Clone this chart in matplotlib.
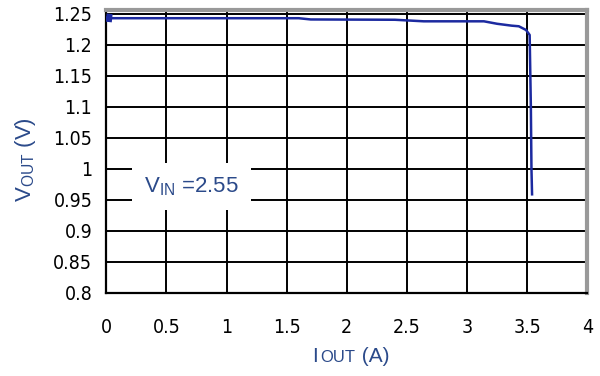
import matplotlib.pyplot as plt
from matplotlib.offsetbox import AnchoredOffsetbox, HPacker, TextArea

# Load-regulation curve: output voltage vs. output current
iout = [0.0, 0.05, 0.5, 1.0, 1.6, 1.7, 2.4, 2.64, 3.0, 3.14, 3.25, 3.37, 3.43, 3.49, 3.52, 3.53, 3.535, 3.54]
vout = [1.244, 1.243, 1.243, 1.243, 1.243, 1.241, 1.2405, 1.238, 1.238, 1.238, 1.234, 1.231, 1.230, 1.224, 1.216, 1.10, 1.00, 0.959]

x_ticks = [0, 0.5, 1, 1.5, 2, 2.5, 3, 3.5, 4]
x_tick_labels = ["0", "0.5", "1", "1.5", "2", "2.5", "3", "3.5", "4"]
y_ticks = [0.8, 0.85, 0.9, 0.95, 1.0, 1.05, 1.1, 1.15, 1.2, 1.25]
y_tick_labels = ["0.8", "0.85", "0.9", "0.95", "1", "1.05", "1.1", "1.15", "1.2", "1.25"]

plt.rcParams["font.family"] = ["Liberation Sans", "DejaVu Sans"]
plt.rcParams["mathtext.fontset"] = "custom"
plt.rcParams["mathtext.rm"] = "Liberation Sans"

label_color = "#2b4a8a"
tick_font = dict(family="DejaVu Sans", stretch="condensed", size=14)

fig = plt.figure(figsize=(6, 3.76), dpi=100)
ax = fig.add_axes([0.177, 0.221, 0.802, 0.752])

ax.plot(iout, vout, color="#1c2aa0", lw=1.8, zorder=3)
# heavier start of the trace near zero load
ax.plot(iout[:2], vout[:2], color="#1c2aa0", lw=6, solid_capstyle="butt", zorder=3)

ax.set_xlim(0, 4)
ax.set_ylim(0.8, 1.256)
ax.set_xticks(x_ticks)
ax.set_xticklabels(x_tick_labels, fontdict=tick_font)
ax.set_yticks(y_ticks)
ax.set_yticklabels(y_tick_labels, fontdict=tick_font)
ax.tick_params(axis="x", length=0, pad=18)
ax.tick_params(axis="y", length=0, pad=10)

ax.grid(True, color="black", lw=1.4)
ax.set_axisbelow(True)
for side in ["left", "bottom"]:
    ax.spines[side].set_color("black")
    ax.spines[side].set_linewidth(1.6)
for side in ["top", "right"]:
    ax.spines[side].set_color("#999999")
    ax.spines[side].set_linewidth(3)

# x label: "I" with small-caps "OUT" on the same baseline
xlabel = HPacker(children=[
    TextArea("I", textprops=dict(size=15, color=label_color)),
    TextArea("OUT", textprops=dict(size=12, color=label_color)),
    TextArea(" (A)", textprops=dict(size=15, color=label_color)),
], align="baseline", pad=0, sep=1)
ax.add_artist(AnchoredOffsetbox(loc="center", child=xlabel, frameon=False, pad=0, borderpad=0,
                                bbox_to_anchor=(0.509, -0.225), bbox_transform=ax.transAxes))

ax.set_ylabel(r"$\mathregular{V_{OUT}}$ (V)", fontsize=16, color=label_color)
ax.yaxis.set_label_coords(-0.142, 0.47)

ax.text(0.71, 0.972, r"$\mathregular{V_{IN}}$ =2.55", fontsize=16, color=label_color,
        ha="center", va="center", zorder=4,
        bbox=dict(facecolor="white", edgecolor="none", pad=9))

fig.savefig("out.png", dpi=100)
